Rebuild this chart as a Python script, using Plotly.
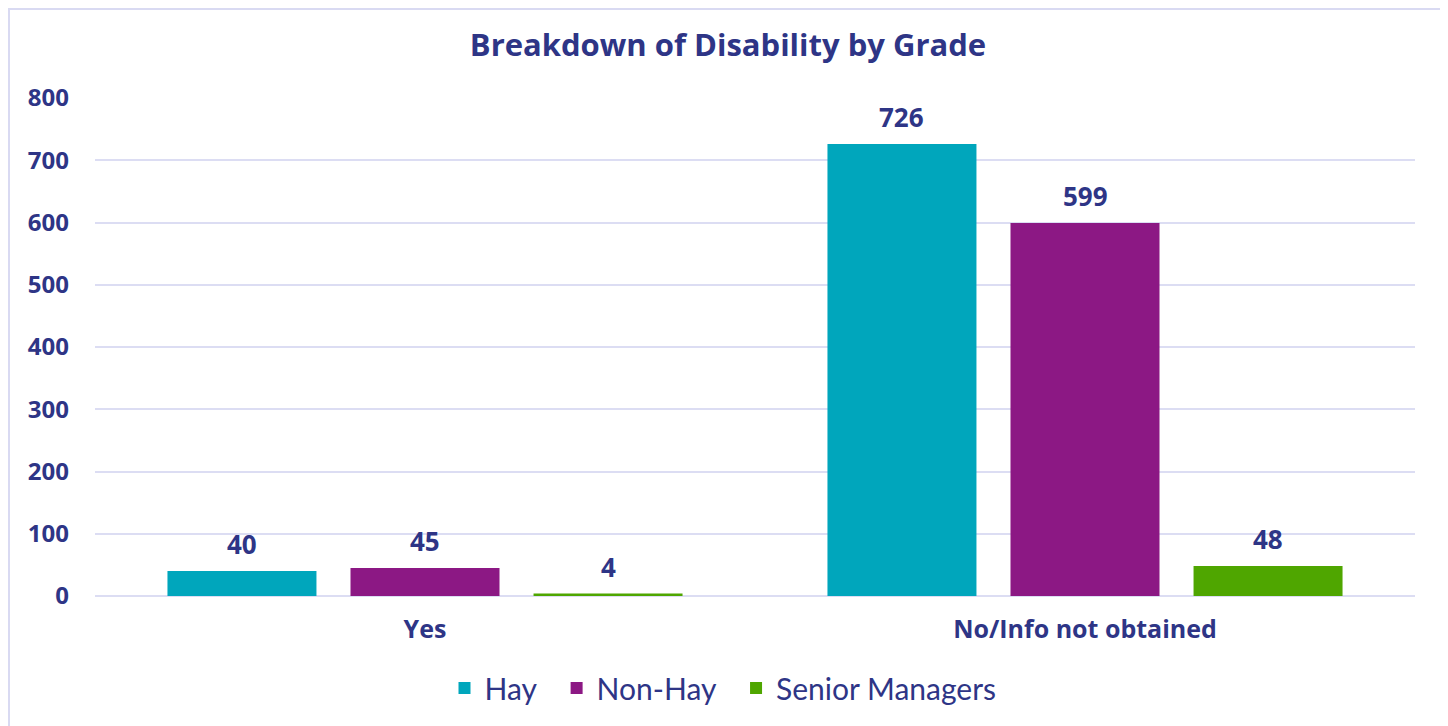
import plotly.graph_objects as go

# data
categories = ["Yes", "No/Info not obtained"]
series_names = ["Hay", "Non-Hay", "Senior Managers"]
hay = [40, 726]
non_hay = [45, 599]
senior_managers = [4, 48]

navy = "#2E3586"
bold_font = "'Open Sans', Lato, sans-serif"
legend_font = "Lato, 'Open Sans', sans-serif"
colors = ["#00A6BC", "#8C1884", "#4FA600"]
bargap = 0.168

fig = go.Figure()
annotations = []
all_vals = [hay, non_hay, senior_managers]
slot = (1 - bargap) / len(all_vals)
for k, (name, vals, col) in enumerate(zip(series_names, all_vals, colors)):
    pad = "\u00a0\u00a0" if k < len(all_vals) - 1 else ""  # wider legend spacing
    fig.add_trace(go.Bar(
        x=categories, y=vals, name=name + pad,
        marker=dict(color=col, line=dict(width=0)),
    ))
    # value labels sit a bit higher above the bars than plotly's outside text
    for i, v in enumerate(vals):
        annotations.append(dict(
            x=i - (1 - bargap) / 2 + slot * (k + 0.5), y=v, xref="x", yref="y",
            text="<b>%d</b>" % v, showarrow=False, yanchor="middle", yshift=27,
            font=dict(family=bold_font, size=26, color=navy)))

# page is offset 8px by body margin, so the figure is 1440x718
W, H = 1440, 718
L, R, T, B = 87, 33, 90, 130
pw, ph = W - L - R, H - T - B

fig.update_layout(
    width=W, height=H,
    paper_bgcolor="white", plot_bgcolor="white",
    margin=dict(l=L, r=R, t=T, b=B),
    barmode="group", bargap=bargap, bargroupgap=0.186,
    title=dict(text="<b>Breakdown of Disability by Grade</b>", x=0.5, xanchor="center",
               y=1 - 37 / H, yanchor="middle",
               font=dict(family=bold_font, size=31, color=navy)),
    font=dict(family=bold_font, color=navy),
    showlegend=True,
    legend=dict(orientation="h", x=0.5 - 32 / pw, xanchor="center", y=-(680 - T - ph) / ph,
                yanchor="middle",
                font=dict(family=legend_font, size=30, color=navy),
                itemwidth=30, traceorder="normal"),
    xaxis=dict(showgrid=False, showline=False, ticks="", ticklabelstandoff=16,
               tickfont=dict(family=bold_font, size=25, color=navy, weight="bold")),
    yaxis=dict(range=[0, 800], dtick=100, showgrid=True, gridcolor="#DCDDF3", gridwidth=2,
               zeroline=True, zerolinecolor="#DCDDF3", zerolinewidth=2, showline=False,
               ticks="", ticklabelstandoff=25,
               tickfont=dict(family=bold_font, size=24, color=navy, weight="bold")),
    annotations=annotations,
    shapes=[dict(type="rect", xref="paper", yref="paper",
                 x0=-(L - 1) / pw, x1=(W - 4 - L) / pw, y0=-(B + 10) / ph, y1=1 + (T - 1) / ph,
                 line=dict(color="#D9DAF2", width=2), fillcolor="rgba(0,0,0,0)")],
)

fig.write_html("out.html")
